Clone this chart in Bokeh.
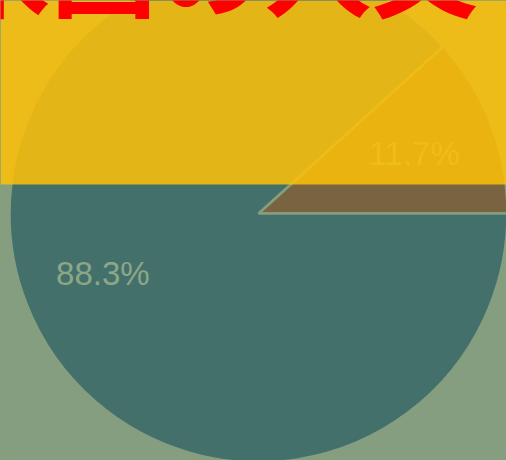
import numpy as np
from bokeh.plotting import figure
from bokeh.models import ColumnDataSource, BoxAnnotation, Label, GlobalInlineStyleSheet
from bokeh.embed import file_html
from bokeh.resources import INLINE
from bokeh.core.properties import value

# ---- data ----
title_text = "米国の人文学"
categories = ["その他", "主要"]
shares = [11.7, 88.3]
slice_colors = ["#7A6340", "#44706C"]

# ---- style ----
BG = "#859E7F"
BAND = "#FFC107"
LABEL_COLOR = "#8CA786"

shares_arr = np.array(shares, dtype=float)
ends = np.cumsum(shares_arr) / shares_arr.sum() * 2 * np.pi
starts = np.concatenate([[0.0], ends[:-1]])
mids = (starts + ends) / 2
lab_r = 0.67

src = ColumnDataSource(dict(
    cat=categories,
    start=starts,
    end=ends,
    color=slice_colors,
    lx=lab_r * np.cos(mids),
    ly=lab_r * np.sin(mids),
    txt=[f"{s:.1f}%" for s in shares],
))

R = 249.0  # pixels per unit radius
W, H = 506, 460
cx, cy = 258.0, 213.0

p = figure(width=W, height=H,
           x_range=(-cx / R, (W - cx) / R),
           y_range=(-(H - cy) / R, cy / R),
           x_axis_type=None, y_axis_type=None,
           toolbar_location=None, output_backend="svg",
           min_border=0, background_fill_color=BG, border_fill_color=BG,
           outline_line_color=None)
p.grid.visible = False

p.wedge(x=0, y=0, radius=1.0, start_angle="start", end_angle="end",
        fill_color="color", line_color=BG, line_width=2.5, source=src)

p.text(x="lx", y="ly", text="txt", source=src,
       text_font=value("Liberation Sans"), text_font_size="33px",
       text_color=LABEL_COLOR, text_align="center", text_baseline="middle")

band = BoxAnnotation(bottom=(cy - 184) / R, fill_color=BAND, fill_alpha=0.85,
                     line_color=None)
p.add_layout(band)

title = Label(x=(264 - cx) / R, y=(cy + 38) / R, text=title_text, text_align="center",
              text_baseline="alphabetic", text_font="Noto Sans CJK JP",
              text_font_style="bold", text_font_size="107px", text_color="#FF0000")
p.add_layout(title)

p.stylesheets = [GlobalInlineStyleSheet(
    css="html, body { margin: 0; padding: 0; background: #859E7F; overflow: hidden; }")]

open("out.html", "w").write(file_html(p, INLINE))
